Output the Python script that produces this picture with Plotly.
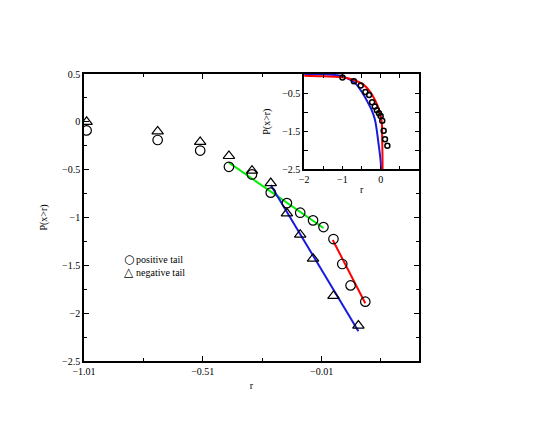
import plotly.graph_objects as go

# ---- data ----
pos_x = [-0.999, -0.70, -0.521, -0.40, -0.303, -0.224, -0.156, -0.10, -0.046, -0.002, 0.040, 0.077, 0.112, 0.174]
pos_y = [-0.09, -0.19, -0.30, -0.47, -0.55, -0.74, -0.85, -0.95, -1.03, -1.10, -1.225, -1.486, -1.71, -1.88]

neg_x = [-0.999, -0.70, -0.521, -0.40, -0.303, -0.224, -0.156, -0.10, -0.046, 0.040, 0.145]
neg_y = [0.0, -0.10, -0.21, -0.357, -0.51, -0.64, -0.956, -1.18, -1.43, -1.82, -2.13]

green_x = [-0.40, -0.002]
green_y = [-0.427, -1.11]
blue_x = [-0.224, 0.145]
blue_y = [-0.66, -2.19]
red_x = [0.037, 0.174]
red_y = [-1.235, -1.897]

inset_blue_x = [-2.0, -1.5, -1.06, -0.80, -0.63, -0.50, -0.37, -0.235, -0.15, -0.06, 0.0, 0.01]
inset_blue_y = [0.0, -0.01, -0.045, -0.15, -0.28, -0.46, -0.68, -0.95, -1.2, -1.8, -2.3, -2.5]
inset_red_x = [-2.0, -1.5, -1.06, -0.715, -0.45, -0.28, -0.15, -0.037, 0.026, 0.038, 0.046, 0.05]
inset_red_y = [-0.045, -0.06, -0.08, -0.15, -0.28, -0.46, -0.68, -0.95, -1.25, -1.7, -2.1, -2.5]

main_xticks = [-1.01, -0.51, -0.01]
main_xtext = ["\u22121.01", "\u22120.51", "\u22120.01"]
inset_xticks = [-2, -1.5, -1, -0.5, 0, 0.5, 1]
inset_xtext = ["\u22122", "", "\u22121", "", "0", "", ""]
inset_yticks = [-0.5, -1, -1.5, -2, -2.5]
inset_ytext = ["\u22120.5", "", "\u22121.5", "", "\u22122.5"]

legend_labels = ["positive tail", "negative tail"]
legend_symbols = ["\u25CB", "\u25B3"]

FONT = "Liberation Serif"

fig = go.Figure()

fig.add_trace(go.Scatter(x=green_x, y=green_y, mode="lines",
                         line=dict(color="#00ee00", width=2), showlegend=False))
fig.add_trace(go.Scatter(x=blue_x, y=blue_y, mode="lines",
                         line=dict(color="#1a1adf", width=2), showlegend=False))
fig.add_trace(go.Scatter(x=red_x, y=red_y, mode="lines",
                         line=dict(color="#ff0000", width=2), showlegend=False))

fig.add_trace(go.Scatter(x=pos_x, y=pos_y, mode="markers", name=legend_labels[0], showlegend=False,
                         marker=dict(symbol="circle-open", size=9.5, color="black",
                                     line=dict(width=1.2, color="black"))))
fig.add_trace(go.Scatter(x=neg_x, y=neg_y, mode="markers", name=legend_labels[1], showlegend=False,
                         marker=dict(symbol="triangle-up-open", size=10, color="black",
                                     line=dict(width=1.2, color="black"))))

# inset
fig.add_trace(go.Scatter(x=inset_blue_x, y=inset_blue_y, mode="lines", xaxis="x2", yaxis="y2",
                         line=dict(color="#1a1adf", width=2, shape="spline"), showlegend=False))
fig.add_trace(go.Scatter(x=inset_red_x, y=inset_red_y, mode="lines", xaxis="x2", yaxis="y2",
                         line=dict(color="#ff0000", width=2, shape="spline"), showlegend=False))
fig.add_trace(go.Scatter(x=pos_x, y=pos_y, mode="markers", xaxis="x2", yaxis="y2",
                         marker=dict(symbol="circle-open", size=5, color="black",
                                     line=dict(width=1.5, color="black")), showlegend=False))

# legend drawn as text annotations (symbol + label)
for i, (sym, lab) in enumerate(zip(legend_symbols, legend_labels)):
    yy = 0.355 - i * 0.045
    fig.add_annotation(xref="paper", yref="paper", x=0.134, y=yy,
                       xanchor="center", yanchor="middle", showarrow=False, text=sym,
                       borderpad=0, font=dict(family="DejaVu Sans", size=12, color="black"))
    fig.add_annotation(xref="paper", yref="paper", x=0.152, y=yy,
                       xanchor="left", yanchor="middle", showarrow=False, text=lab,
                       borderpad=0, font=dict(family=FONT, size=10, color="black"))

axis_common = dict(showgrid=False, zeroline=False, showline=True, linecolor="black",
                   linewidth=1.5, mirror="allticks", ticks="inside", tickcolor="black",
                   tickwidth=1, automargin=False,
                   tickfont=dict(family=FONT, size=10, color="black"))

fig.update_layout(
    width=545, height=436,
    margin=dict(l=84, r=126, t=74, b=75),
    paper_bgcolor="white", plot_bgcolor="white",
    font=dict(family=FONT, size=10, color="black"),
    showlegend=False,
    xaxis=dict(domain=[0, 1], range=[-1.01, 0.40], tickvals=main_xticks, ticktext=main_xtext,
               ticklen=5,
               minor=dict(tickvals=[-0.76, -0.26, 0.24], ticks="inside", ticklen=3,
                          tickcolor="black", showgrid=False),
               title=dict(text="r", font=dict(family=FONT, size=10), standoff=6),
               **axis_common),
    yaxis=dict(domain=[0, 1], range=[-2.5, 0.5], dtick=0.5, tick0=0, ticklen=5,
               minor=dict(dtick=0.25, ticks="inside", ticklen=3, tickcolor="black", showgrid=False),
               title=dict(text="P(x>r)", font=dict(family=FONT, size=10), standoff=13),
               **axis_common),
    xaxis2=dict(domain=[0.657, 1.0], anchor="y2", range=[-2, 1], tickvals=inset_xticks,
                ticktext=inset_xtext, ticklen=4,
                title=dict(text="r", font=dict(family=FONT, size=10), standoff=2),
                **axis_common),
    yaxis2=dict(domain=[0.668, 1.0], anchor="x2", range=[-2.5, 0], tickvals=inset_yticks,
                ticktext=inset_ytext, ticklen=4,
                title=dict(text="P(x>r)", font=dict(family=FONT, size=10), standoff=10),
                **axis_common),
)

fig.write_html("out.html", post_script="document.body.style.margin='0';",
               config={"displayModeBar": False})
